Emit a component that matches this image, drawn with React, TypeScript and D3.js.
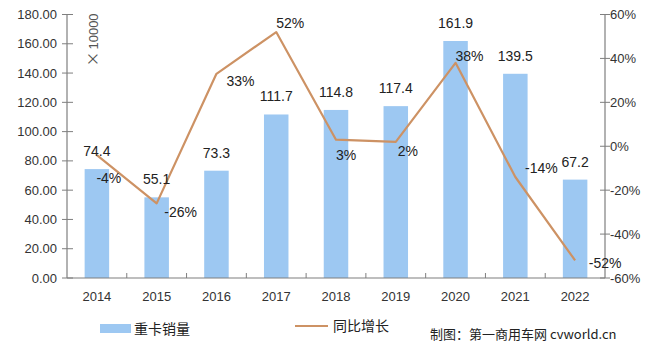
import React from "react";
import * as d3 from "d3";

const years = ["2014", "2015", "2016", "2017", "2018", "2019", "2020", "2021", "2022"];
const sales = [74.4, 55.1, 73.3, 111.7, 114.8, 117.4, 161.9, 139.5, 67.2];
const growth = [-4, -26, 33, 52, 3, 2, 38, -14, -52];
const leftTicks = [0, 20, 40, 60, 80, 100, 120, 140, 160, 180];
const rightTicks = [-60, -40, -20, 0, 20, 40, 60];
const salesLegend = "重卡销量";
const growthLegend = "同比增长";
const unitSymbol = "×";
const unitLabel = "10000";
const credit = "制图：第一商用车网  cvworld.cn";

// label offsets (layout only) for percentage labels relative to line points
const pctOffsets: [number, number][] = [
  [12, 28], [24, 14], [24, 12], [14, -4], [10, 20], [12, 14], [14, -2], [26, -4], [30, 8],
];

const W = 656, H = 355;
const left = 67, right = 605, top = 14.5, bottom = 278;

export default function App() {
  const xb = d3.scaleBand<string>().domain(years).range([left, right]);
  const yL = d3.scaleLinear().domain([0, 180]).range([bottom, top]);
  const yR = d3.scaleLinear().domain([-60, 60]).range([bottom, top]);
  const cx = (y: string) => (xb(y) as number) + xb.bandwidth() / 2;
  const bw = xb.bandwidth() * 0.41;
  const line = d3.line<number>().x((_, i) => cx(years[i])).y((d) => yR(d));
  const font = "'Liberation Sans', Arial, sans-serif";
  const cjk = "'Noto Sans CJK SC', sans-serif";
  const axisColor = "#7f7f7f";
  const textColor = "#333";
  const lineColor = "#CD9264";
  const barColor = "#9DC8F2";
  return (
    <svg width={W} height={H} style={{ position: "absolute", left: 0, top: 0, background: "#fff" }}>
      {sales.map((v, i) => (
        <rect key={"b" + i} x={cx(years[i]) - bw / 2} y={yL(v)} width={bw} height={bottom - yL(v)} fill={barColor} />
      ))}
      <line x1={left} x2={right} y1={bottom} y2={bottom} stroke={axisColor} strokeWidth={1.2} />
      {years.slice(1).map((y) => (
        <line key={"xt" + y} x1={xb(y)} x2={xb(y)} y1={bottom} y2={bottom - 5} stroke={axisColor} strokeWidth={1} />
      ))}
      {years.map((y) => (
        <text key={"xl" + y} x={cx(y)} y={bottom + 23} textAnchor="middle" fontFamily={font} fontSize={13} fill={textColor}>{y}</text>
      ))}
      <line x1={left} x2={left} y1={top} y2={bottom} stroke={axisColor} strokeWidth={1.2} />
      {leftTicks.map((t) => (
        <g key={"lt" + t}>
          <line x1={left - 5} x2={left + 6} y1={yL(t)} y2={yL(t)} stroke={axisColor} strokeWidth={1} />
          <text x={left - 10} y={yL(t) + 4.5} textAnchor="end" fontFamily={font} fontSize={13} fill={textColor}>{t.toFixed(2)}</text>
        </g>
      ))}
      <text transform={`translate(98,${40}) rotate(-90)`} textAnchor="middle" fontFamily={font} fontSize={13} fill="#555">
        <tspan fontFamily={cjk} fontSize={15}>{unitSymbol}</tspan>
        <tspan dx={2}>{unitLabel}</tspan>
      </text>
      <line x1={right} x2={right} y1={top} y2={bottom} stroke={axisColor} strokeWidth={1.2} />
      {rightTicks.map((t) => (
        <g key={"rt" + t}>
          <line x1={right - 5} x2={right + 5} y1={yR(t)} y2={yR(t)} stroke={axisColor} strokeWidth={1} />
          <text x={right + 5} y={yR(t) + 4.5} textAnchor="start" fontFamily={font} fontSize={13} fill={textColor}>{t + "%"}</text>
        </g>
      ))}
      <path d={line(growth) || ""} fill="none" stroke={lineColor} strokeWidth={2.2} strokeLinejoin="round" />
      {sales.map((v, i) => (
        <text key={"bl" + i} x={cx(years[i])} y={yL(v) - 13} textAnchor="middle" fontFamily={font} fontSize={14} fill="#222">{v.toFixed(1)}</text>
      ))}
      {growth.map((v, i) => (
        <text key={"pl" + i} x={cx(years[i]) + pctOffsets[i][0]} y={yR(v) + pctOffsets[i][1]} textAnchor="middle" fontFamily={font} fontSize={14} fill="#222">{v + "%"}</text>
      ))}
      <rect x={100} y={324} width={31} height={9} fill={barColor} />
      <text x={134} y={334} fontFamily={cjk} fontSize={14} fill="#222">{salesLegend}</text>
      <line x1={295} x2={328} y1={326} y2={326} stroke={lineColor} strokeWidth={2} />
      <text x={333} y={331} fontFamily={cjk} fontSize={14} fill="#222">{growthLegend}</text>
      <text x={430} y={339} fontFamily={cjk} fontSize={13} fill="#222">{credit}</text>
    </svg>
  );
}
